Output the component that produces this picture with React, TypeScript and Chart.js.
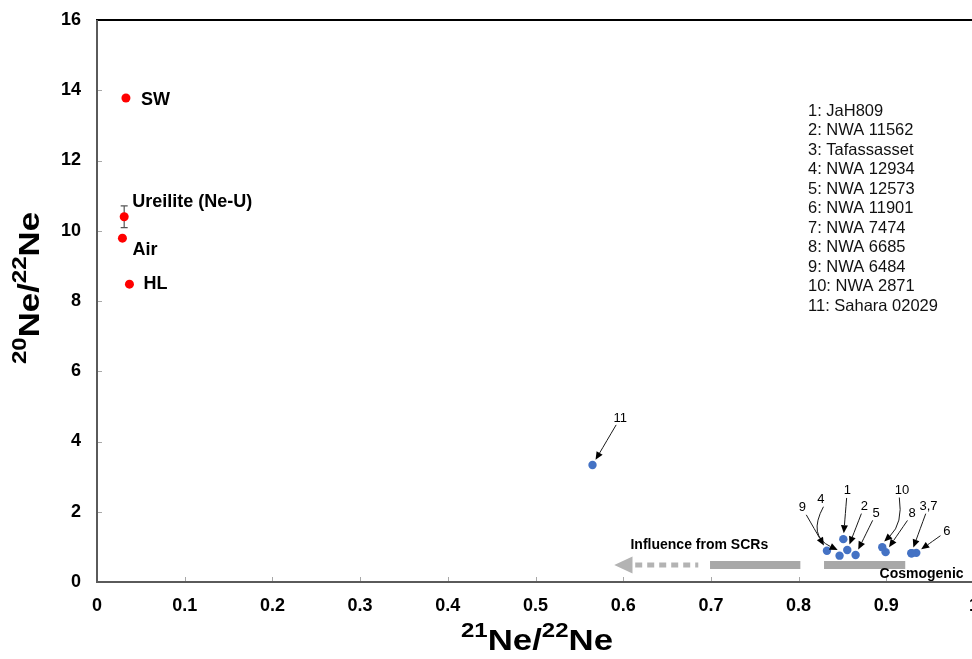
import React, { useEffect, useRef } from "react";
import { Chart, registerables } from "chart.js";

Chart.register(...registerables);

const FONT = '"Liberation Sans", Arial, Helvetica, sans-serif';
const CANVAS_W = 1010;
const CANVAS_H = 659;

// axes
const xMin = 0;
const xMax = 1;
const xStep = 0.1;
const yMin = 0;
const yMax = 16;
const yStep = 2;
const xTitleParts: [string, boolean][] = [["21", true], ["Ne/", false], ["22", true], ["Ne", false]];
const yTitleParts: [string, boolean][] = [["20", true], ["Ne/", false], ["22", true], ["Ne", false]];

// reference components (red)
const refNames = ["SW", "Ureilite (Ne-U)", "Air", "HL"];
const refX = [0.033, 0.031, 0.029, 0.037];
const refY = [13.78, 10.4, 9.79, 8.48];
const refErr = [0, 0.31, 0, 0];
const refLabelDx = [15, 8, 10, 14];
const refLabelDy = [2, -15, 12, 0];

// samples (blue)
const sampleNames = [
  "JaH809",
  "NWA 11562",
  "Tafassasset",
  "NWA 12934",
  "NWA 12573",
  "NWA 11901",
  "NWA 7474",
  "NWA 6685",
  "NWA 6484",
  "NWA 2871",
  "Sahara 02029",
];
const sampleX = [0.851, 0.8555, 0.9285, 0.8467, 0.865, 0.9342, 0.929, 0.8992, 0.8323, 0.8954, 0.565];
const sampleY = [1.22, 0.91, 0.82, 0.75, 0.77, 0.83, 0.82, 0.85, 0.89, 0.99, 3.33];

// numbered callouts
const calloutText = ["1", "2", "3,7", "4", "5", "6", "8", "9", "10", "11"];
const calloutTarget = [0, 1, 2, 3, 4, 5, 7, 8, 9, 10];
const calloutX = [0.8555, 0.8749, 0.9481, 0.8255, 0.8885, 0.9692, 0.9293, 0.8042, 0.9178, 0.5966];
const calloutY = [2.62, 2.16, 2.16, 2.36, 1.96, 1.45, 1.94, 2.11, 2.62, 4.67];
const calloutBend = [0, 0, 0, 12, 0, 0, 0, 0, -6, 0];

// grey bands
const bandY = 0.484;
const bandSolid1X = [0.699, 0.802];
const bandSolid2X = [0.829, 0.9216];
const bandDashX = [0.6137, 0.6856];
const bandArrowX = [0.5898, 0.6106];
const bandNotes = ["Influence from SCRs", "Cosmogenic"];
const bandNoteX = [0.6083, 0.8923];
const bandNoteY = [1.053, 0.219];

function drawSupText(ctx: CanvasRenderingContext2D, parts: [string, boolean][]) {
  const main = `bold 29px ${FONT}`;
  const sup = `bold 20px ${FONT}`;
  let total = 0;
  const widths = parts.map(([t, s]) => {
    ctx.font = s ? sup : main;
    const w = ctx.measureText(t).width;
    total += w;
    return w;
  });
  ctx.scale(1.2, 1);
  let cx = -total / 2;
  ctx.fillStyle = "#000";
  ctx.textBaseline = "alphabetic";
  ctx.textAlign = "left";
  parts.forEach(([t, s], i) => {
    ctx.font = s ? sup : main;
    ctx.fillText(t, cx, s ? -13 : 0);
    cx += widths[i];
  });
}

function drawArrow(ctx: CanvasRenderingContext2D, x0: number, y0: number, x1: number, y1: number, bend: number) {
  const dx = x1 - x0;
  const dy = y1 - y0;
  const len = Math.hypot(dx, dy) || 1;
  const px = -dy / len;
  const py = dx / len;
  const cx = (x0 + x1) / 2 + 2 * px * bend;
  const cy = (y0 + y1) / 2 + 2 * py * bend;
  const ex = x1 - cx;
  const ey = y1 - cy;
  const el = Math.hypot(ex, ey) || 1;
  const ux = ex / el;
  const uy = ey / el;
  const hl = 8;
  const hw = 3.5;
  const bx = x1 - ux * hl;
  const by = y1 - uy * hl;
  ctx.beginPath();
  ctx.moveTo(x0, y0);
  ctx.quadraticCurveTo(cx, cy, bx, by);
  ctx.stroke();
  ctx.beginPath();
  ctx.moveTo(x1, y1);
  ctx.lineTo(bx - uy * hw, by + ux * hw);
  ctx.lineTo(bx + uy * hw, by - ux * hw);
  ctx.closePath();
  ctx.fill();
}

const overlayPlugin = {
  id: "overlay",
  beforeDatasetsDraw(chart: any) {
    const { ctx, scales } = chart;
    const x = scales.x;
    const y = scales.y;
    ctx.save();
    ctx.strokeStyle = "#555";
    ctx.lineWidth = 1.2;
    refX.forEach((vx, i) => {
      if (!refErr[i]) return;
      const px = x.getPixelForValue(vx);
      const top = y.getPixelForValue(refY[i] + refErr[i]);
      const bot = y.getPixelForValue(refY[i] - refErr[i]);
      ctx.beginPath();
      ctx.moveTo(px, top);
      ctx.lineTo(px, bot);
      ctx.moveTo(px - 3.5, top);
      ctx.lineTo(px + 3.5, top);
      ctx.moveTo(px - 3.5, bot);
      ctx.lineTo(px + 3.5, bot);
      ctx.stroke();
    });
    // grey arrowhead of the SCR band
    const tipX = x.getPixelForValue(bandArrowX[0]);
    const baseX = x.getPixelForValue(bandArrowX[1]);
    const by = y.getPixelForValue(bandY);
    ctx.fillStyle = "#b3b3b3";
    ctx.beginPath();
    ctx.moveTo(tipX, by);
    ctx.lineTo(baseX, by - 8.5);
    ctx.lineTo(baseX, by + 8.5);
    ctx.closePath();
    ctx.fill();
    ctx.restore();
  },
  afterDraw(chart: any) {
    const { ctx, chartArea: a, scales } = chart;
    const x = scales.x;
    const y = scales.y;
    ctx.save();
    // tick marks (inside)
    ctx.strokeStyle = "#a8a8a8";
    ctx.lineWidth = 1;
    x.ticks.forEach((t: any) => {
      const px = Math.round(x.getPixelForValue(t.value)) + 0.5;
      ctx.beginPath();
      ctx.moveTo(px, a.bottom);
      ctx.lineTo(px, a.bottom - 5);
      ctx.stroke();
    });
    y.ticks.forEach((t: any) => {
      const py = Math.round(y.getPixelForValue(t.value)) + 0.5;
      ctx.beginPath();
      ctx.moveTo(a.left, py);
      ctx.lineTo(a.left + 5, py);
      ctx.stroke();
    });
    // axis lines
    ctx.lineWidth = 2;
    ctx.strokeStyle = "#000";
    ctx.beginPath();
    ctx.moveTo(a.left - 1, a.top);
    ctx.lineTo(chart.width, a.top);
    ctx.stroke();
    ctx.strokeStyle = "#5a5a5a";
    ctx.beginPath();
    ctx.moveTo(a.left, a.top);
    ctx.lineTo(a.left, a.bottom + 1);
    ctx.stroke();
    ctx.beginPath();
    ctx.moveTo(a.left - 1, a.bottom);
    ctx.lineTo(chart.width, a.bottom);
    ctx.stroke();

    // reference labels
    ctx.fillStyle = "#000";
    ctx.font = `bold 18px ${FONT}`;
    ctx.textAlign = "left";
    ctx.textBaseline = "middle";
    refNames.forEach((n, i) => {
      ctx.fillText(n, x.getPixelForValue(refX[i]) + refLabelDx[i], y.getPixelForValue(refY[i]) + refLabelDy[i]);
    });

    // callouts
    ctx.font = `13px ${FONT}`;
    ctx.textAlign = "center";
    ctx.strokeStyle = "#1a1a1a";
    ctx.fillStyle = "#000";
    ctx.lineWidth = 1;
    calloutText.forEach((t, i) => {
      const lx = x.getPixelForValue(calloutX[i]);
      const ly = y.getPixelForValue(calloutY[i]);
      const k = calloutTarget[i];
      const tx = x.getPixelForValue(sampleX[k]);
      const ty = y.getPixelForValue(sampleY[k]);
      ctx.fillText(t, lx, ly);
      const dx = tx - lx;
      const dy = ty - ly;
      const d = Math.hypot(dx, dy) || 1;
      const ux = dx / d;
      const uy = dy / d;
      drawArrow(ctx, lx + ux * 8, ly + uy * 8, tx - ux * 6, ty - uy * 6, calloutBend[i]);
    });

    // band notes
    ctx.font = `bold 14px ${FONT}`;
    ctx.textAlign = "left";
    bandNotes.forEach((n, i) => {
      ctx.fillText(n, x.getPixelForValue(bandNoteX[i]), y.getPixelForValue(bandNoteY[i]));
    });

    // legend list
    ctx.font = `16.5px ${FONT}`;
    ctx.fillStyle = "#111";
    sampleNames.forEach((n, i) => {
      ctx.fillText(`${i + 1}: ${n}`, 808, 111 + i * 19.5);
    });

    // axis titles
    ctx.save();
    ctx.translate(537, 650);
    drawSupText(ctx, xTitleParts);
    ctx.restore();
    ctx.save();
    ctx.translate(39, 288);
    ctx.rotate(-Math.PI / 2);
    drawSupText(ctx, yTitleParts);
    ctx.restore();

    ctx.restore();
  },
};

export default function App() {
  const ref = useRef<HTMLCanvasElement | null>(null);
  useEffect(() => {
    if (!ref.current) return;
    const grey = "#a8a8a8";
    const chart = new Chart(ref.current, {
      type: "scatter",
      data: {
        datasets: [
          {
            data: [
              { x: bandSolid1X[0], y: bandY },
              { x: bandSolid1X[1], y: bandY },
            ],
            showLine: true,
            borderColor: grey,
            borderWidth: 8,
            borderCapStyle: "butt",
            pointRadius: 0,
          } as any,
          {
            data: [
              { x: bandSolid2X[0], y: bandY },
              { x: bandSolid2X[1], y: bandY },
            ],
            showLine: true,
            borderColor: grey,
            borderWidth: 8,
            borderCapStyle: "butt",
            pointRadius: 0,
          } as any,
          {
            data: [
              { x: bandDashX[0], y: bandY },
              { x: bandDashX[1], y: bandY },
            ],
            showLine: true,
            borderColor: "#b3b3b3",
            borderWidth: 5,
            borderDash: [7, 5],
            borderCapStyle: "butt",
            pointRadius: 0,
          } as any,
          {
            data: refX.map((v, i) => ({ x: v, y: refY[i] })),
            backgroundColor: "#ff0000",
            borderColor: "#ff0000",
            borderWidth: 0,
            pointRadius: 4.5,
          },
          {
            data: sampleX.map((v, i) => ({ x: v, y: sampleY[i] })),
            backgroundColor: "#4472c4",
            borderColor: "#4472c4",
            borderWidth: 0,
            pointRadius: 4.2,
          },
        ],
      },
      options: {
        animation: false,
        responsive: false,
        devicePixelRatio: 1,
        layout: { padding: { left: 0, right: CANVAS_W - 974, top: 20, bottom: 0 } },
        plugins: { legend: { display: false }, tooltip: { enabled: false } },
        scales: {
          x: {
            type: "linear",
            min: xMin,
            max: xMax,
            grid: { display: false, drawTicks: false },
            border: { display: false },
            ticks: {
              stepSize: xStep,
              padding: 13,
              autoSkip: false,
              maxRotation: 0,
              color: "#000",
              font: { family: FONT, size: 18, weight: "bold" },
              callback: (v: any) => String(Number(Number(v).toFixed(1))),
            },
            afterFit: (s: any) => {
              s.height = CANVAS_H - 582;
              s.paddingLeft = 0;
              s.paddingRight = 0;
            },
          },
          y: {
            type: "linear",
            min: yMin,
            max: yMax,
            grid: { display: false, drawTicks: false },
            border: { display: false },
            ticks: {
              stepSize: yStep,
              padding: 16,
              color: "#000",
              font: { family: FONT, size: 18, weight: "bold" },
            },
            afterFit: (s: any) => {
              s.width = 97;
              s.paddingTop = 0;
              s.paddingBottom = 0;
            },
          },
        },
      } as any,
      plugins: [overlayPlugin],
    });
    return () => chart.destroy();
  }, []);

  return (
    <div
      style={{
        position: "fixed",
        left: 0,
        top: 0,
        width: 972,
        height: 659,
        overflow: "hidden",
        background: "#fff",
      }}
    >
      <canvas ref={ref} width={CANVAS_W} height={CANVAS_H} style={{ display: "block" }} />
    </div>
  );
}
